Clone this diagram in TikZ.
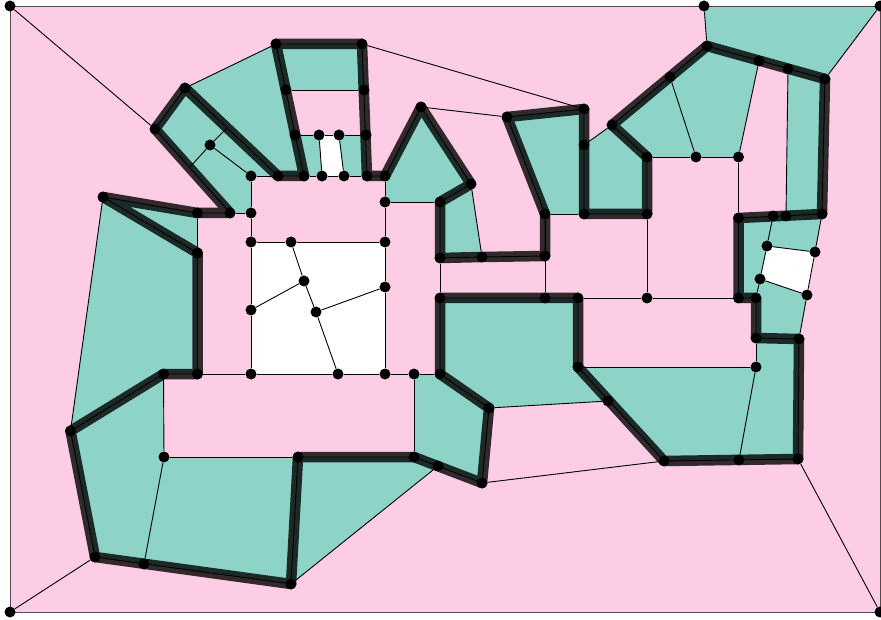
\documentclass[tikz,border=0pt]{standalone}
\usetikzlibrary{backgrounds}
\definecolor{facepink}{HTML}{FCCDE5}
\definecolor{faceteal}{HTML}{8DD3C7}

\begin{document}
\begin{tikzpicture}[
        x=1pt, y=-1pt,
        vertex/.style={circle, fill=black, inner sep=0pt, minimum size=11pt},
        edgeline/.style={draw=black, line width=0.9pt},
        frameline/.style={draw=black!70, line width=0.9pt},
        tealface/.style={fill=faceteal},
        whiteface/.style={fill=white},
        boundary/.style={draw=black, draw opacity=0.8, line width=10.5pt, line join=round}
    ]
        \useasboundingbox (0,0) rectangle (881,620);

        % Frame corners
        \node[vertex] (tl) at (10,6) {};
        \node[vertex] (tr) at (880,6) {};
        \node[vertex] (tt) at (704,6) {};
        \node[vertex] (bl) at (10,612) {};
        \node[vertex] (br) at (880,612) {};

        % Upper left part
        \node[vertex] (a1) at (155,129) {};
        \node[vertex] (a2) at (185,88) {};
        \node[vertex] (a3) at (278,176) {};
        \node[vertex] (a4) at (304,176) {};
        \node[vertex] (a5) at (276,44) {};
        \node[vertex] (a6) at (362,44) {};
        \node[vertex] (a7) at (367,176) {};
        \node[vertex] (a8) at (385,176) {};
        \node[vertex] (a9) at (230,213) {};
        \node[vertex] (c1) at (286,90) {};
        \node[vertex] (c2) at (364,90) {};
        \node[vertex] (c3) at (295,135) {};
        \node[vertex] (c4) at (319,135) {};
        \node[vertex] (c5) at (339,135) {};
        \node[vertex] (c6) at (366,135) {};
        \node[vertex] (c7) at (322,176) {};
        \node[vertex] (c8) at (344,176) {};
        \node[vertex] (r1) at (210,145) {};
        \coordinate (r2) at (227,128);
        \coordinate (r3) at (190,167);

        % Centre block
        \node[vertex] (m1) at (251,176) {};
        \node[vertex] (m2) at (251,213) {};
        \node[vertex] (m3) at (251,242) {};
        \node[vertex] (m4) at (291,242) {};
        \node[vertex] (m5) at (385,242) {};
        \node[vertex] (m6) at (385,202) {};
        \node[vertex] (m7) at (304,281) {};
        \node[vertex] (m8) at (316,312) {};
        \node[vertex] (m9) at (385,287) {};
        \node[vertex] (m10) at (251,310) {};
        \node[vertex] (m11) at (251,374) {};
        \node[vertex] (m12) at (338,374) {};
        \node[vertex] (m13) at (385,374) {};
        \node[vertex] (m14) at (414,374) {};

        % Upper middle part
        \node[vertex] (b1) at (421,107) {};
        \node[vertex] (b2) at (471,184) {};
        \node[vertex] (b3) at (440,202) {};
        \node[vertex] (b4) at (440,258) {};
        \node[vertex] (b5) at (482,257) {};
        \node[vertex] (b6) at (545,256) {};
        \node[vertex] (b7) at (545,214) {};
        \node[vertex] (b8) at (507,117) {};
        \node[vertex] (b9) at (584,109) {};
        \node[vertex] (b10) at (584,145) {};
        \node[vertex] (b11) at (584,214) {};
        \node[vertex] (b12) at (647,214) {};
        \node[vertex] (b13) at (647,157) {};
        \node[vertex] (b14) at (612,125) {};

        % Upper right part
        \node[vertex] (d1) at (670,77) {};
        \node[vertex] (d2) at (707,46) {};
        \node[vertex] (d3) at (759,61) {};
        \node[vertex] (d4) at (788,69) {};
        \node[vertex] (d5) at (825,79) {};
        \node[vertex] (d6) at (822,214) {};
        \node[vertex] (d7) at (786,216) {};
        \node[vertex] (d8) at (773,216) {};
        \node[vertex] (d9) at (738.5,218) {};
        \node[vertex] (d10) at (696,157) {};
        \node[vertex] (d11) at (738.5,157) {};
        \node[vertex] (d12) at (767,246) {};
        \node[vertex] (d13) at (815,252) {};
        \node[vertex] (d14) at (760,279) {};
        \node[vertex] (d15) at (807,295) {};

        % Lower right part
        \node[vertex] (e1) at (738.5,298) {};
        \node[vertex] (e2) at (756,298) {};
        \node[vertex] (e3) at (756,338) {};
        \node[vertex] (e4) at (799,339) {};
        \node[vertex] (e5) at (756,367) {};
        \node[vertex] (e6) at (798,459) {};
        \node[vertex] (e7) at (739,460) {};
        \node[vertex] (e8) at (664,461) {};
        \node[vertex] (e9) at (608,401) {};
        \node[vertex] (e10) at (578,367) {};
        \node[vertex] (e11) at (578,298) {};
        \node[vertex] (e12) at (647,298) {};
        \node[vertex] (e13) at (545,298) {};
        \node[vertex] (e14) at (440,298) {};

        % Lower middle part
        \node[vertex] (f1) at (440,374) {};
        \node[vertex] (f2) at (489,408) {};
        \node[vertex] (f3) at (482,483) {};
        \node[vertex] (f4) at (438,466) {};
        \node[vertex] (f5) at (414,457) {};
        \node[vertex] (f6) at (298,457) {};

        % Left part
        \node[vertex] (g1) at (291,584) {};
        \node[vertex] (g2) at (144,564) {};
        \node[vertex] (g3) at (95,557) {};
        \node[vertex] (g4) at (70.5,431) {};
        \node[vertex] (g5) at (164,457) {};
        \node[vertex] (g6) at (163.5,374) {};
        \node[vertex] (g7) at (197.5,374) {};
        \node[vertex] (g8) at (197.5,253) {};
        \node[vertex] (g9) at (103,197) {};
        \node[vertex] (g10) at (197.5,213) {};

        \begin{scope}[on background layer]
        % Faces
        \fill[facepink] (tl.center) rectangle (br.center);
        \fill[whiteface] (m3.center) -- (m5.center) -- (m13.center) -- (m11.center) -- cycle;
        \fill[whiteface] (c4.center) -- (c5.center) -- (c8.center) -- (c7.center) -- cycle;
        \fill[whiteface] (d12.center) -- (d13.center) -- (d15.center) -- (d14.center) -- cycle;
        \fill[tealface] (a1.center) -- (a2.center) -- (a3.center) -- (m1.center) -- (m2.center) -- (a9.center) -- cycle;
        \fill[tealface] (a2.center) -- (a5.center) -- (a4.center) -- (a3.center) -- cycle;
        \fill[tealface] (a5.center) -- (a6.center) -- (c2.center) -- (c1.center) -- cycle;
        \fill[tealface] (c3.center) -- (c4.center) -- (c7.center) -- (a4.center) -- cycle;
        \fill[tealface] (c5.center) -- (c6.center) -- (a7.center) -- (c8.center) -- cycle;
        \fill[tealface] (a8.center) -- (b1.center) -- (b2.center) -- (b3.center) -- (m6.center) -- cycle;
        \fill[tealface] (b2.center) -- (b5.center) -- (b4.center) -- (b3.center) -- cycle;
        \fill[tealface] (b8.center) -- (b9.center) -- (b11.center) -- (b7.center) -- cycle;
        \fill[tealface] (b10.center) -- (b14.center) -- (b13.center) -- (b12.center) -- (b11.center) -- cycle;
        \fill[tealface] (b14.center) -- (d2.center) -- (d3.center) -- (d11.center) -- (b13.center) -- cycle;
        \fill[tealface] (tt.center) -- (tr.center) -- (d5.center) -- (d2.center) -- cycle;
        \fill[tealface] (d4.center) -- (d5.center) -- (d6.center) -- (d7.center) -- cycle;
        \fill[tealface] (d9.center) -- (d6.center) -- (d13.center) -- (d12.center) -- (d14.center) -- (e2.center) -- (e1.center) -- cycle;
        \fill[tealface] (d14.center) -- (d15.center) -- (e4.center) -- (e3.center) -- (e2.center) -- cycle;
        \fill[tealface] (e3.center) -- (e4.center) -- (e6.center) -- (e7.center) -- (e5.center) -- cycle;
        \fill[tealface] (e10.center) -- (e5.center) -- (e7.center) -- (e8.center) -- cycle;
        \fill[tealface] (e14.center) -- (e11.center) -- (e10.center) -- (e9.center) -- (f2.center) -- (f1.center) -- cycle;
        \fill[tealface] (m14.center) -- (f1.center) -- (f2.center) -- (f3.center) -- (f5.center) -- cycle;
        \fill[tealface] (f6.center) -- (f5.center) -- (f4.center) -- (g1.center) -- cycle;
        \fill[tealface] (g5.center) -- (f6.center) -- (g1.center) -- (g2.center) -- cycle;
        \fill[tealface] (g4.center) -- (g6.center) -- (g5.center) -- (g2.center) -- (g3.center) -- cycle;
        \fill[tealface] (g9.center) -- (g8.center) -- (g7.center) -- (g6.center) -- (g4.center) -- cycle;
        \fill[tealface] (g9.center) -- (g10.center) -- (g8.center) -- cycle;

        % Wide boundary
        \draw[boundary] (a1.center) -- (a2.center) -- (a3.center) -- (a4.center) -- (a5.center) -- (a6.center) -- (a7.center) -- (a8.center)
            -- (b1.center) -- (b2.center) -- (b3.center) -- (b4.center) -- (b5.center) -- (b6.center) -- (b7.center) -- (b8.center)
            -- (b9.center) -- (b11.center) -- (b12.center) -- (b13.center) -- (b14.center) -- (d2.center) -- (d5.center) -- (d6.center)
            -- (d9.center) -- (e1.center) -- (e2.center) -- (e3.center) -- (e4.center) -- (e6.center) -- (e8.center) -- (e10.center)
            -- (e11.center) -- (e14.center) -- (f1.center) -- (f2.center) -- (f3.center) -- (f5.center) -- (f6.center) -- (g1.center)
            -- (g3.center) -- (g4.center) -- (g6.center) -- (g7.center) -- (g8.center) -- (g9.center) -- (g10.center) -- (a9.center) -- cycle;

        % Thin edges along the boundary
        \draw[edgeline, line join=round] (a1.center) -- (a2.center) -- (a3.center) -- (a4.center) -- (a5.center) -- (a6.center) -- (a7.center) -- (a8.center)
            -- (b1.center) -- (b2.center) -- (b3.center) -- (b4.center) -- (b5.center) -- (b6.center) -- (b7.center) -- (b8.center)
            -- (b9.center) -- (b11.center) -- (b12.center) -- (b13.center) -- (b14.center) -- (d2.center) -- (d5.center) -- (d6.center)
            -- (d9.center) -- (e1.center) -- (e2.center) -- (e3.center) -- (e4.center) -- (e6.center) -- (e8.center) -- (e10.center)
            -- (e11.center) -- (e14.center) -- (f1.center) -- (f2.center) -- (f3.center) -- (f5.center) -- (f6.center) -- (g1.center)
            -- (g3.center) -- (g4.center) -- (g6.center) -- (g7.center) -- (g8.center) -- (g9.center) -- (g10.center) -- (a9.center) -- cycle;

        % Frame
        \draw[frameline] (tl.center) rectangle (br.center);
        \draw[edgeline] (tl) -- (a1);
        \draw[edgeline] (bl) -- (g3);
        \draw[edgeline] (br) -- (e6);
        \draw[edgeline] (tt) -- (d2);
        \draw[edgeline] (tr) -- (d5);

        % Remaining edges
        \draw[edgeline] (a2) -- (a5);
        \draw[edgeline] (a6) -- (b9);
        \draw[edgeline] (b1) -- (b8);
        \draw[edgeline] (b10) -- (b14);
        \draw[edgeline] (r1) -- (m1);
        \draw[edgeline] (r1) -- (r2);
        \draw[edgeline] (r1) -- (r3);
        \draw[edgeline] (a9) -- (m2);
        \draw[edgeline] (m1) -- (a3);
        \draw[edgeline] (m1) -- (m2);
        \draw[edgeline] (m2) -- (m3);
        \draw[edgeline] (m3) -- (m10);
        \draw[edgeline] (m10) -- (m11);
        \draw[edgeline] (m3) -- (m4);
        \draw[edgeline] (m4) -- (m5);
        \draw[edgeline] (m4) -- (m7);
        \draw[edgeline] (m7) -- (m8);
        \draw[edgeline] (m8) -- (m12);
        \draw[edgeline] (m7) -- (m10);
        \draw[edgeline] (m8) -- (m9);
        \draw[edgeline] (a8) -- (m6);
        \draw[edgeline] (m6) -- (m5);
        \draw[edgeline] (m5) -- (m9);
        \draw[edgeline] (m9) -- (m13);
        \draw[edgeline] (m6) -- (b3);
        \draw[edgeline] (g7) -- (m11);
        \draw[edgeline] (m11) -- (m12);
        \draw[edgeline] (m12) -- (m13);
        \draw[edgeline] (m13) -- (m14);
        \draw[edgeline] (m14) -- (f1);
        \draw[edgeline] (m14) -- (f5);
        \draw[edgeline] (c1) -- (c2);
        \draw[edgeline] (c3) -- (c4);
        \draw[edgeline] (c4) -- (c5);
        \draw[edgeline] (c5) -- (c6);
        \draw[edgeline] (c4) -- (c7);
        \draw[edgeline] (c5) -- (c8);
        \draw[edgeline] (a4) -- (c7);
        \draw[edgeline] (c7) -- (c8);
        \draw[edgeline] (c8) -- (a7);
        \draw[edgeline] (b2) -- (b5);
        \draw[edgeline] (b4) -- (e14);
        \draw[edgeline] (b7) -- (e13);
        \draw[edgeline] (b7) -- (b11);
        \draw[edgeline] (b12) -- (e12);
        \draw[edgeline] (e11) -- (e12);
        \draw[edgeline] (e12) -- (e1);
        \draw[edgeline] (b13) -- (d10);
        \draw[edgeline] (d10) -- (d11);
        \draw[edgeline] (d1) -- (d10);
        \draw[edgeline] (d3) -- (d11);
        \draw[edgeline] (d11) -- (d9);
        \draw[edgeline] (d4) -- (d7);
        \draw[edgeline] (d8) -- (d12);
        \draw[edgeline] (d12) -- (d13);
        \draw[edgeline] (d6) -- (d13);
        \draw[edgeline] (d13) -- (d15);
        \draw[edgeline] (d12) -- (d14);
        \draw[edgeline] (d14) -- (d15);
        \draw[edgeline] (d14) -- (e2);
        \draw[edgeline] (d15) -- (e4);
        \draw[edgeline] (e3) -- (e5);
        \draw[edgeline] (e5) -- (e10);
        \draw[edgeline] (e5) -- (e7);
        \draw[edgeline] (f2) -- (e9);
        \draw[edgeline] (f3) -- (e8);
        \draw[edgeline] (f4) -- (g1);
        \draw[edgeline] (g5) -- (f6);
        \draw[edgeline] (g5) -- (g6);
        \draw[edgeline] (g5) -- (g2);
        \draw[edgeline] (g9) -- (g4);
        \draw[edgeline] (g10) -- (g8);
        \end{scope}
    \end{tikzpicture}
\end{document}
